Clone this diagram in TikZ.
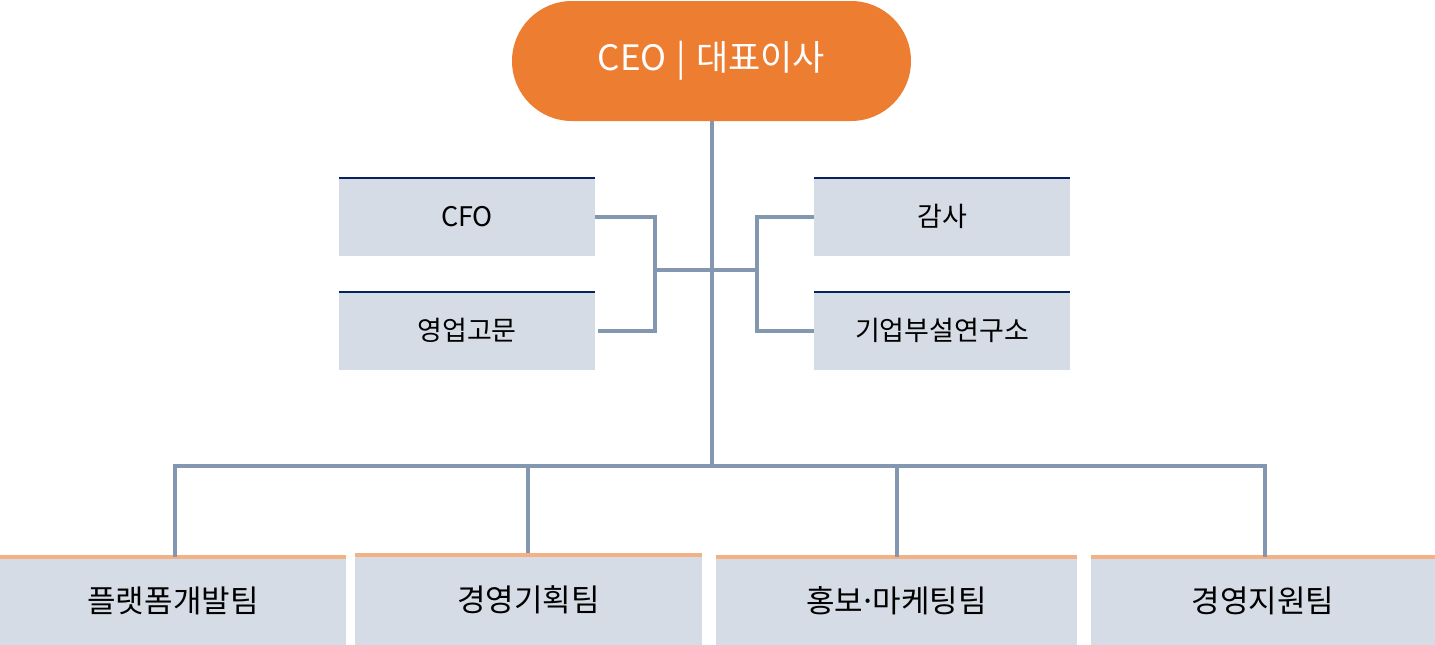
\documentclass[tikz,border=0pt]{standalone}
\usepackage{fontspec}
\usetikzlibrary{shapes.misc}
\setmainfont{Noto Sans CJK KR}
\definecolor{ceoorange}{HTML}{ED7D31}
\definecolor{boxfill}{HTML}{D6DCE5}
\definecolor{connblue}{HTML}{8497B0}
\definecolor{navyline}{HTML}{0A2160}
\definecolor{orangeline}{HTML}{F4B183}
\begin{document}
\begin{tikzpicture}[x=1pt,y=-1pt,
  ceobox/.style={rounded rectangle, fill=ceoorange, text=white, minimum width=399pt, minimum height=120pt, inner sep=0pt, font=\fontsize{35}{40}\selectfont},
  sidebox/.style={rectangle, fill=boxfill, minimum width=256pt, minimum height=79pt, inner sep=0pt, font=\fontsize{27}{30}\selectfont},
  teambox/.style={rectangle, fill=boxfill, minimum height=88pt, inner sep=0pt, font=\fontsize{31}{34}\selectfont},
  topnavy/.style={draw=navyline, line width=2pt},
  toporange/.style={draw=orangeline, line width=4pt},
  conn/.style={draw=connblue, line width=4pt, line join=miter}
]
\useasboundingbox (0,0) rectangle (1435,645);
% CEO
\node[ceobox] (ceo) at (711.5,61) {CEO\hspace{10pt}|\hspace{10pt}대표이사};
% side boxes
\node[sidebox] (cfo) at (467,216.5) {CFO};
\node[sidebox] (adv) at (467,330.5) {영업고문};
\node[sidebox] (audit) at (942,216.5) {감사};
\node[sidebox] (lab) at (942,330.5) {기업부설연구소};
\foreach \n in {cfo,adv,audit,lab}{
  \draw[topnavy] ([yshift=-1pt]\n.north west) -- ([yshift=-1pt]\n.north east);
}
% team boxes
\node[teambox, minimum width=346pt] (t1) at (173,601) {플랫폼개발팀};
\node[teambox, minimum width=347pt, minimum height=90pt] (t2) at (528.5,600) {경영기획팀};
\node[teambox, minimum width=361pt] (t3) at (896.5,601) {홍보\kern-4pt·\kern-4pt마케팅팀};
\node[teambox, minimum width=344pt] (t4) at (1263,601) {경영지원팀};
\foreach \n in {t1,t2,t3,t4}{
  \draw[toporange] (\n.north west) -- (\n.north east);
}
% connectors
\coordinate (bus) at (712,466);
\coordinate (lj) at (655,270);
\coordinate (rj) at (757,270);
\draw[conn] (ceo.south -| bus) -- (bus);
\draw[conn] (cfo.east) -| (lj) |- ([xshift=3pt]adv.east);
\draw[conn] (audit.west) -| (rj) |- (lab.west);
\draw[conn] (lj) -- (rj);
\coordinate (d1) at (175,557);
\coordinate (d2) at (528,553);
\coordinate (d3) at (897,557);
\coordinate (d4) at (1265,557);
\draw[conn] (d1) |- (bus) -| (d4);
\draw[conn] (d2) -- (d2 |- bus);
\draw[conn] (d3) -- (d3 |- bus);
\end{tikzpicture}
\end{document}
